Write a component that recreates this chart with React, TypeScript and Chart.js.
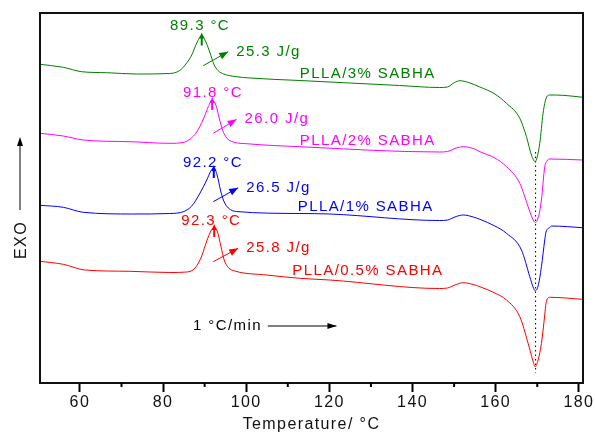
import React, { useEffect, useRef } from 'react';
import { Chart, registerables } from 'chart.js';

Chart.register(...registerables);

// ---------------- data (temperature in °C, heat flow in arbitrary units, exo up) ----------------
const greenT = [50.4, 56.0, 60.4, 66.4, 73.6, 81.6, 84.0, 85.5, 86.9, 88.1, 89.3, 90.3, 91.3, 92.2, 93.2, 94.6, 97.3, 100.9, 112.9, 124.9, 136.9, 146.5, 148.4, 150.1, 151.4, 153.8, 156.2, 159.8, 162.6, 165.8, 167.4, 168.6, 169.5, 170.0, 170.6, 171.4, 171.8, 172.4, 173.0, 176.2, 181.0];
const greenY = [318.7, 315.7, 311.3, 310.3, 309, 309.5, 312.5, 319, 328, 340, 347.5, 341, 330, 319, 312.5, 309, 306.5, 305, 302.5, 300, 297.5, 295.5, 296, 300.5, 302.3, 300, 296, 289, 279.7, 264.7, 246.3, 228, 221.3, 226.3, 239.7, 269.7, 279.7, 287, 288, 287.7, 285.7];

const magentaT = [50.4, 56.0, 60.8, 72.0, 81.6, 84.8, 86.5, 88.1, 89.7, 90.9, 91.8, 92.7, 93.5, 94.3, 95.3, 96.9, 100.1, 112.9, 146.5, 148.4, 150.5, 152.2, 154.6, 156.2, 159.8, 162.6, 165.8, 167.8, 168.8, 169.5, 170.2, 171.0, 171.8, 172.3, 173.0, 181.0];
const magentaY = [249.7, 247, 243, 241.3, 239.7, 240.5, 244, 251, 264, 276.5, 283, 278, 265, 253, 245, 241, 239.3, 236.3, 231, 231.5, 235, 236.3, 234.5, 231.3, 225, 216.3, 199.7, 176.3, 165, 160.5, 165, 183, 216.3, 222, 224, 223];

const blueT = [50.4, 56.0, 60.8, 72.7, 81.6, 85.0, 86.9, 88.9, 90.5, 91.5, 92.2, 93.0, 93.8, 94.6, 95.7, 97.7, 112.9, 120.1, 146.5, 148.4, 150.5, 152.2, 154.6, 156.2, 159.8, 162.6, 166.2, 168.2, 169.0, 169.5, 170.2, 171.0, 171.8, 172.1, 173.0, 173.4, 181.0];
const blueY = [177.7, 175.7, 170.7, 169, 169.5, 171.5, 177, 190, 203, 212, 215, 208, 193, 182, 175, 171.5, 169.5, 169, 162.5, 163, 166.5, 168, 166, 163.7, 157, 149.7, 133, 106.3, 96, 92.3, 97, 116.3, 143, 151, 155.5, 157, 155.3];

const redT = [50.4, 56.0, 61.2, 72.0, 81.6, 85.7, 87.7, 89.3, 90.5, 91.5, 92.3, 93.1, 93.9, 94.7, 95.7, 97.3, 104.9, 112.9, 120.1, 146.5, 148.4, 150.5, 152.2, 154.6, 156.2, 159.8, 162.6, 165.8, 167.8, 168.9, 169.5, 170.2, 171.0, 171.8, 172.1, 173.0, 181.0];
const redY = [121.7, 118.7, 113, 111.7, 110.5, 111, 115, 127, 142, 152, 156, 151, 137, 123, 115.5, 112, 108, 104.7, 103, 94.5, 95, 98.5, 100.3, 98.5, 96.3, 90, 83, 66.3, 39.7, 23, 16.3, 23, 39.7, 68, 79.7, 85.7, 83.7];

// melting peak guide (dotted)
const meltGuideT = [169.6, 169.6];
const meltGuideY = [231, 10];

// annotations (green, magenta, blue, red)
const seriesColors = ['#008000', '#ff00ff', '#0000ff', '#ff0000'];
const sampleNames = ['PLLA/3% SABHA', 'PLLA/2% SABHA', 'PLLA/1% SABHA', 'PLLA/0.5% SABHA'];
const sampleLabelT = [112.9, 112.9, 112.4, 111.1];
const sampleLabelY = [309, 242, 176.3, 112];

const peakTemps = [89.3, 91.8, 92.2, 92.3];
const peakHeights = [347.5, 283, 215, 156];
const peakLabels = ['89.3 °C', '91.8 °C', '92.2 °C', '92.3 °C'];
const peakLabelT = [88.9, 92.0, 92.0, 91.6];
const peakLabelY = [353, 286, 216, 158];

const enthalpyLabels = ['25.3 J/g', '26.0 J/g', '26.5 J/g', '25.8 J/g'];
const enthalpyFromT = [89.65, 92.06, 92.06, 92.06];
const enthalpyFromY = [317.3, 249.7, 181.3, 121.3];
const enthalpyToT = [95.67, 97.69, 98.07, 98.07];
const enthalpyToY = [331.3, 263.7, 195.3, 134.7];

const rateLabel = '1 °C/min';
const rateLabelT = 87.2;
const rateArrowT = [105.2, 121.7];
const rateY = 57;

const xTitle = 'Temperature/ °C';
const yTitle = 'EXO';

const X_MIN = 50.4;
const X_MAX = 181.0;
const Y_MIN = 0;
const Y_MAX = 370;

const FONT_FAMILY = "'Liberation Sans', Arial, sans-serif";
const LETTER_SPACING = '1.4px';

function toPoints(xs: number[], ys: number[]) {
  return xs.map((x, i) => ({ x, y: ys[i] }));
}

function drawArrowHead(ctx: CanvasRenderingContext2D, x1: number, y1: number, x2: number, y2: number, len: number, half: number) {
  const a = Math.atan2(y2 - y1, x2 - x1);
  const bx = x2 - len * Math.cos(a);
  const by = y2 - len * Math.sin(a);
  ctx.beginPath();
  ctx.moveTo(x2, y2);
  ctx.lineTo(bx + half * Math.sin(a), by - half * Math.cos(a));
  ctx.lineTo(bx - half * Math.sin(a), by + half * Math.cos(a));
  ctx.closePath();
  ctx.fill();
}

const dscPlugin = {
  id: 'dscDecor',
  beforeUpdate(chart: any) {
    chart.ctx.letterSpacing = LETTER_SPACING;
  },
  beforeDraw(chart: any) {
    const ctx = chart.ctx;
    ctx.letterSpacing = LETTER_SPACING;
    ctx.save();
    ctx.fillStyle = '#ffffff';
    ctx.fillRect(0, 0, chart.width, chart.height);
    ctx.restore();
  },
  afterDatasetsDraw(chart: any) {
    const ctx: CanvasRenderingContext2D = chart.ctx;
    const xs = chart.scales.x;
    const ys = chart.scales.y;
    const X = (v: number) => xs.getPixelForValue(v);
    const Y = (v: number) => ys.getPixelForValue(v);
    ctx.save();
    ctx.letterSpacing = LETTER_SPACING;
    ctx.font = `15px ${FONT_FAMILY}`;
    for (let i = 0; i < 4; i++) {
      const c = seriesColors[i];
      ctx.fillStyle = c;
      ctx.strokeStyle = c;
      // peak temperature label
      ctx.textAlign = 'center';
      ctx.textBaseline = 'alphabetic';
      ctx.fillText(peakLabels[i], X(peakLabelT[i]), Y(peakLabelY[i]));
      // peak marker (small up arrow)
      const px = X(peakTemps[i]);
      const py = Y(peakHeights[i]);
      ctx.lineWidth = 2;
      ctx.beginPath();
      ctx.moveTo(px, py + 10);
      ctx.lineTo(px, py);
      ctx.stroke();
      drawArrowHead(ctx, px, py + 10, px, py - 3, 6, 2.5);
      // enthalpy arrow
      const x1 = X(enthalpyFromT[i]);
      const y1 = Y(enthalpyFromY[i]);
      const x2 = X(enthalpyToT[i]);
      const y2 = Y(enthalpyToY[i]);
      ctx.lineWidth = 1;
      ctx.beginPath();
      ctx.moveTo(x1, y1);
      ctx.lineTo(x2, y2);
      ctx.stroke();
      drawArrowHead(ctx, x1, y1, x2, y2, 9, 3.5);
      ctx.textAlign = 'left';
      ctx.textBaseline = 'middle';
      ctx.fillText(enthalpyLabels[i], x2 + 8, y2);
      // sample name
      ctx.fillText(sampleNames[i], X(sampleLabelT[i]), Y(sampleLabelY[i]));
    }
    // heating rate
    ctx.fillStyle = '#000';
    ctx.strokeStyle = '#000';
    ctx.textAlign = 'left';
    ctx.textBaseline = 'middle';
    ctx.fillText(rateLabel, X(rateLabelT), Y(rateY));
    ctx.lineWidth = 1;
    ctx.beginPath();
    ctx.moveTo(X(rateArrowT[0]), Y(rateY));
    ctx.lineTo(X(rateArrowT[1]), Y(rateY));
    ctx.stroke();
    drawArrowHead(ctx, X(rateArrowT[0]), Y(rateY), X(rateArrowT[1]), Y(rateY), 9, 3);
    ctx.restore();
  },
  afterDraw(chart: any) {
    const ctx: CanvasRenderingContext2D = chart.ctx;
    const { left, right, top, bottom } = chart.chartArea;
    const xs = chart.scales.x;
    ctx.save();
    // frame
    ctx.strokeStyle = '#111';
    ctx.lineWidth = 2;
    ctx.strokeRect(left, top, right - left, bottom - top);
    // minor ticks
    ctx.lineWidth = 2;
    ctx.strokeStyle = '#000';
    for (const t of xs.ticks) {
      if (t.value % 20 !== 0) {
        const x = xs.getPixelForValue(t.value);
        ctx.beginPath();
        ctx.moveTo(x, bottom);
        ctx.lineTo(x, bottom + 4);
        ctx.stroke();
      }
    }
    // y title with arrow
    const cy = (top + bottom) / 2 + 42;
    ctx.letterSpacing = LETTER_SPACING;
    ctx.font = `16px ${FONT_FAMILY}`;
    ctx.fillStyle = '#111';
    ctx.translate(left - 18, cy);
    ctx.rotate(-Math.PI / 2);
    ctx.textAlign = 'center';
    ctx.textBaseline = 'middle';
    ctx.fillText(yTitle, 0, 0);
    ctx.setTransform(1, 0, 0, 1, 0, 0);
    const ax = left - 20;
    ctx.strokeStyle = '#808080';
    ctx.lineWidth = 2;
    ctx.beginPath();
    ctx.moveTo(ax, cy - 30);
    ctx.lineTo(ax, cy - 96);
    ctx.stroke();
    ctx.fillStyle = '#000';
    drawArrowHead(ctx, ax, cy - 30, ax, cy - 103, 9, 3);
    ctx.restore();
  },
};

export default function App() {
  const ref = useRef<HTMLCanvasElement>(null);

  useEffect(() => {
    if (!ref.current) return;
    Chart.defaults.font.family = FONT_FAMILY;
    const curves = [
      { t: greenT, y: greenY },
      { t: magentaT, y: magentaY },
      { t: blueT, y: blueY },
      { t: redT, y: redY },
    ];
    const datasets: any[] = curves.map((c, i) => ({
      label: sampleNames[i],
      data: toPoints(c.t, c.y),
      borderColor: seriesColors[i],
      borderWidth: 1,
      pointRadius: 0,
      fill: false,
      cubicInterpolationMode: 'monotone',
    }));
    datasets.push({
      label: 'Tm',
      data: toPoints(meltGuideT, meltGuideY),
      borderColor: '#000',
      borderWidth: 1,
      borderDash: [1.5, 3],
      pointRadius: 0,
      fill: false,
    });

    const chart = new Chart(ref.current, {
      type: 'line',
      data: { datasets },
      options: {
        animation: false,
        responsive: false,
        devicePixelRatio: 1,
        layout: { padding: { left: 40, top: 13, right: 12, bottom: 0 } },
        plugins: {
          legend: { display: false },
          tooltip: { enabled: false },
        },
        scales: {
          x: {
            type: 'linear',
            min: X_MIN,
            max: X_MAX,
            border: { display: false },
            grid: {
              drawOnChartArea: false,
              drawTicks: true,
              tickLength: 9,
              tickWidth: 2,
              tickColor: (c: any) => (c.tick && c.tick.value % 20 === 0 ? '#000' : 'rgba(0,0,0,0)'),
            },
            ticks: {
              stepSize: 10,
              includeBounds: false,
              autoSkip: false,
              maxRotation: 0,
              padding: 1,
              color: '#111',
              font: { size: 16, family: FONT_FAMILY },
              callback: (v: any) => (Number(v) % 20 === 0 ? String(v) : ''),
            },
            title: {
              display: true,
              text: xTitle,
              color: '#111',
              padding: 0,
              font: { size: 16, family: FONT_FAMILY },
            },
            afterFit: (s: any) => {
              s.height = 51;
              s.paddingLeft = 0;
              s.paddingRight = 0;
            },
          },
          y: {
            type: 'linear',
            display: false,
            min: Y_MIN,
            max: Y_MAX,
          },
        },
      },
      plugins: [dscPlugin],
    } as any);
    return () => chart.destroy();
  }, []);

  return (
    <div style={{ position: 'absolute', left: 0, top: 0, width: 595, height: 434, background: '#fff' }}>
      <canvas ref={ref} width={595} height={434} style={{ display: 'block', width: 595, height: 434 }} />
    </div>
  );
}
